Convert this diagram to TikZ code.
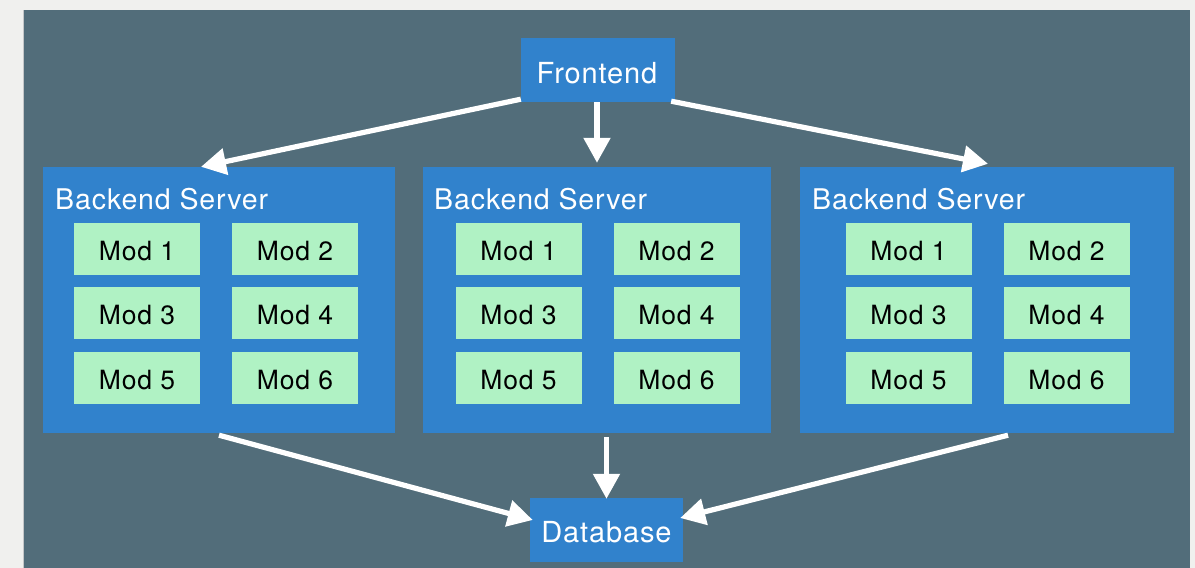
\documentclass[tikz,border=0pt]{standalone}
\usepackage{fontspec}
\setmainfont{TeX Gyre Heros}[LetterSpace=3]
\usetikzlibrary{arrows.meta}
\definecolor{pagebg}{HTML}{F0F0EE}
\definecolor{slate}{HTML}{526D7A}
\definecolor{boxblue}{HTML}{3182CC}
\definecolor{modgreen}{HTML}{B0F2C4}
\definecolor{edgegray}{HTML}{C4C6C8}
\tikzset{
  bluebox/.style={fill=boxblue, draw=none, inner sep=0pt, text=white},
  modbox/.style={fill=modgreen, draw=none, inner sep=0pt, minimum width=126pt, minimum height=52pt, text=black, font=\fontsize{26.5}{30}\selectfont},
  arr/.style={draw=white, line width=5.2pt, -{Triangle[length=25pt,width=26pt]}},
}
\begin{document}
\begin{tikzpicture}[x=1pt,y=-1pt]
\fill[pagebg] (0,0) rectangle (1195,568);
\useasboundingbox (0,0) rectangle (1195,568);
\fill[slate] (23,10) rectangle (1190,568);
\draw[edgegray, line width=1pt] (23.5,10) -- (23.5,568);
% frontend and database
\node[bluebox, minimum width=154pt, minimum height=64pt] (fe) at (598,70) {};
\node[anchor=base, text=white, inner sep=0pt, font=\fontsize{29}{34}\selectfont] (fet) at (597,83) {Frontend};
\node[bluebox, minimum width=153pt, minimum height=64pt] (db) at (606.5,530) {};
\node[anchor=base, text=white, inner sep=0pt, font=\fontsize{29}{34}\selectfont] (dbt) at (606.5,542) {Database};
% backend servers
\node[bluebox, minimum width=352pt, minimum height=266pt] (b1) at (219,300) {};
\node[bluebox, minimum width=348pt, minimum height=266pt] (b2) at (597,300) {};
\node[bluebox, minimum width=374pt, minimum height=266pt] (b3) at (987,300) {};
\foreach \b/\x in {b1/55, b2/434, b3/812}{
  \node[anchor=base west, text=white, inner sep=0pt, font=\fontsize{28.5}{34}\selectfont] (\b t) at (\x,209) {Backend Server};
}
\foreach \b/\xa/\xb in {b1/137/295, b2/518.5/676.5, b3/908.5/1066.5}{
  \foreach \n/\x/\y in {1/\xa/249, 2/\xb/249, 3/\xa/313, 4/\xb/313, 5/\xa/378, 6/\xb/378}{
    \node[modbox] (\b m\n) at (\x,\y) {};
    \node[anchor=base, inner sep=0pt, text=black, font=\fontsize{26.5}{30}\selectfont] (\b m\n t) at (\x,\y+11) {Mod \n};
  }
}
% connectors
\draw[arr] ([yshift=3pt]fe.south west) -- ([xshift=-18pt]b1.north);
\draw[arr] ([xshift=-1pt]fe.south) -- ([yshift=4pt]b2.north);
\draw[arr] ([xshift=-4pt,yshift=1pt]fe.south east) -- ([xshift=1pt,yshift=3pt]b3.north);
\draw[arr] ([yshift=-2pt]b1.south) -- ([xshift=3pt,yshift=10pt]db.west);
\draw[arr] ([yshift=-4pt]db.north |- b2.south) -- ([yshift=-1pt]db.north);
\draw[arr] ([xshift=21pt,yshift=-2pt]b3.south) -- ([xshift=-3pt,yshift=12pt]db.east);
\end{tikzpicture}
\end{document}
